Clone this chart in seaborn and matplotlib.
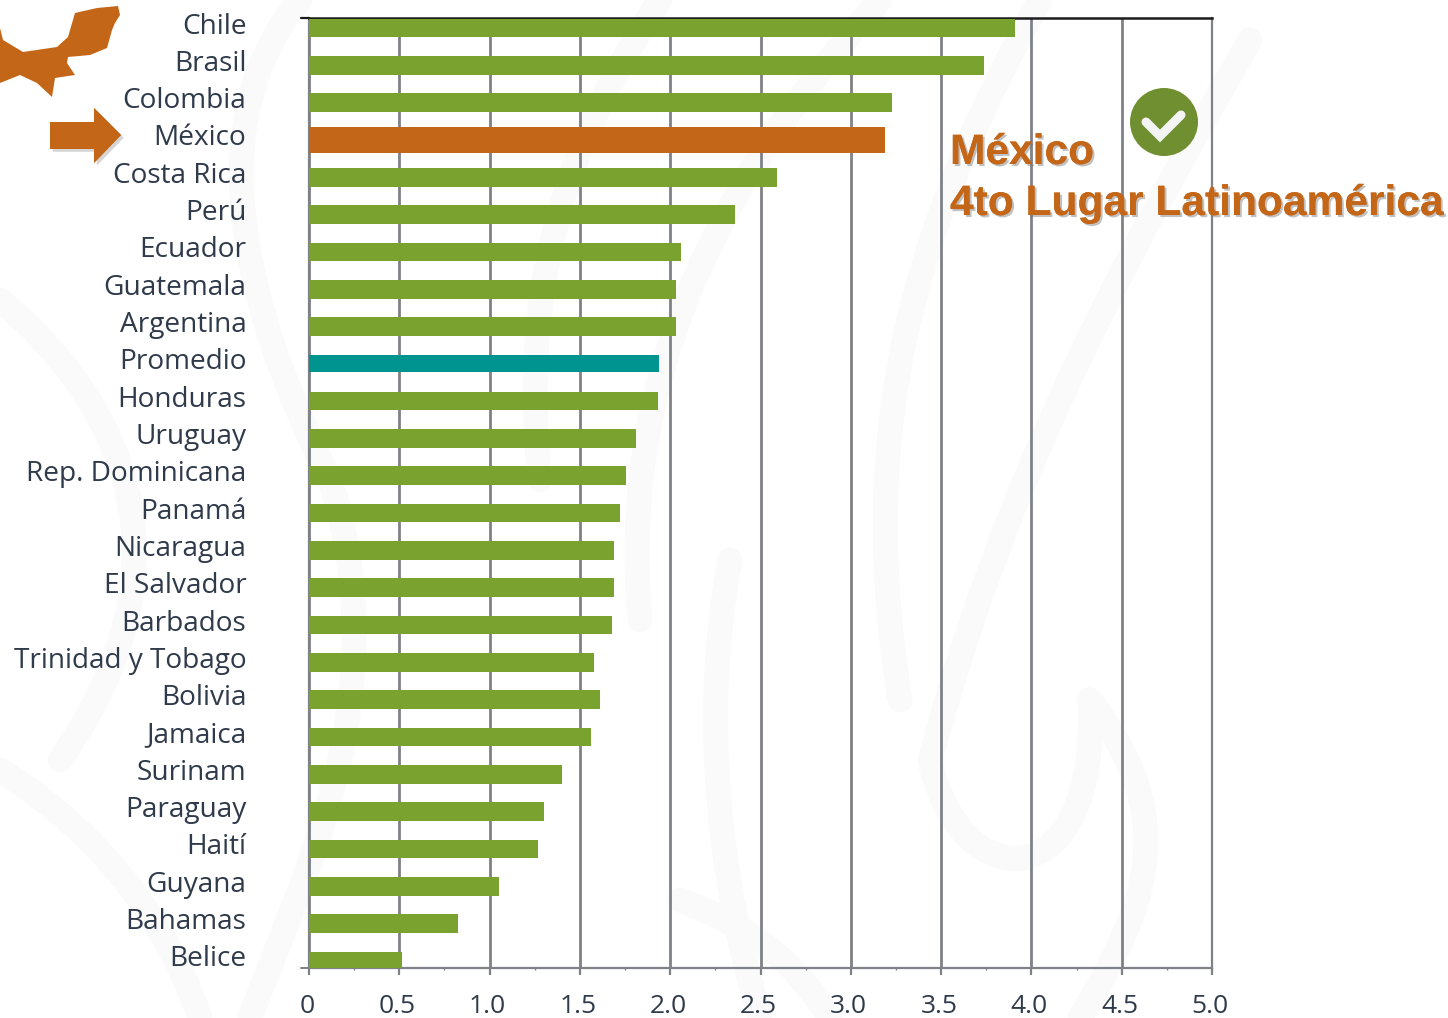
import matplotlib
matplotlib.use("Agg")
import matplotlib.pyplot as plt
import matplotlib.patheffects as pe
import matplotlib.transforms as mtrans
from matplotlib.path import Path
from matplotlib.patches import PathPatch, Polygon, Circle
from matplotlib.ticker import MultipleLocator
import pandas as pd
import seaborn as sns

paises = ['Chile', 'Brasil', 'Colombia', 'México', 'Costa Rica', 'Perú', 'Ecuador',
          'Guatemala', 'Argentina', 'Promedio', 'Honduras', 'Uruguay', 'Rep. Dominicana',
          'Panamá', 'Nicaragua', 'El Salvador', 'Barbados', 'Trinidad y Tobago', 'Bolivia',
          'Jamaica', 'Surinam', 'Paraguay', 'Haití', 'Guyana', 'Bahamas', 'Belice']
valores = [3.91, 3.74, 3.23, 3.19, 2.59, 2.36, 2.06, 2.03, 2.03, 1.94, 1.93, 1.81, 1.755,
           1.72, 1.69, 1.69, 1.68, 1.58, 1.61, 1.56, 1.40, 1.30, 1.27, 1.05, 0.825, 0.515]
xticks = [0, 0.5, 1.0, 1.5, 2.0, 2.5, 3.0, 3.5, 4.0, 4.5, 5.0]
xtick_labels = ['0', '0.5', '1.0', '1.5', '2.0', '2.5', '3.0', '3.5', '4.0', '4.5', '5.0']

verde = '#7aa22f'
naranja = '#c46618'
teal = '#009490'
gris = '#7e8186'
texto = '#2f3a4a'

sns.set_theme(style='white')
plt.rcParams['font.family'] = ['Open Sans', 'DejaVu Sans']

W, H = 1448, 1018
fig = plt.figure(figsize=(W / 100, H / 100), dpi=100, facecolor='white')

# Watermark behind everything
bg = fig.add_axes([0, 0, 1, 1], zorder=0)
bg.set_xlim(0, W)
bg.set_ylim(H, 0)
bg.axis('off')
curvas = [
    [(660, 0), (560, 150), (520, 300), (540, 480)],
    [(880, 0), (700, 200), (620, 400), (640, 620)],
    [(1040, 0), (900, 250), (860, 450), (900, 700)],
    [(1250, 40), (1100, 300), (1000, 500), (930, 760)],
    [(930, 760), (960, 900), (1100, 900), (1090, 700)],
    [(1090, 700), (1180, 820), (1150, 900), (1080, 1018)],
    [(0, 300), (120, 400), (200, 560), (60, 760)],
    [(300, 0), (200, 120), (240, 300), (330, 480)],
    [(330, 480), (400, 700), (300, 880), (250, 1018)],
    [(0, 770), (80, 820), (160, 900), (200, 1018)],
    [(680, 900), (760, 930), (800, 970), (830, 1018)],
    [(730, 560), (700, 720), (720, 880), (760, 1018)],
]
for c in curvas:
    bg.add_patch(PathPatch(Path(c, [Path.MOVETO, Path.CURVE4, Path.CURVE4, Path.CURVE4]),
                           fc='none', ec='#fafafa', lw=18, capstyle='round'))

# Main chart, axes box taken from the reference pixels
y0, y1 = 18, 968
ax = fig.add_axes([309 / W, 1 - y1 / H, (1212 - 309) / W, (y1 - y0) / H], zorder=1)
ax.patch.set_alpha(0)

df = pd.DataFrame({'pais': paises, 'valor': valores})
grupos = df['pais'].map({'México': 'mexico', 'Promedio': 'promedio'}).fillna('resto')
ax.xaxis.grid(True, color=gris, lw=2.0)
ax.set_axisbelow(True)
sns.barplot(data=df[grupos == 'resto'], x='valor', y='pais', order=paises,
            color=verde, width=0.5, saturation=1, linewidth=0, ax=ax, zorder=3)
sns.barplot(data=df[grupos == 'mexico'], x='valor', y='pais', order=paises,
            color=naranja, width=0.7, saturation=1, linewidth=0, ax=ax, zorder=3)
sns.barplot(data=df[grupos == 'promedio'], x='valor', y='pais', order=paises,
            color=teal, width=0.46, saturation=1, linewidth=0, ax=ax, zorder=3)

ax.set_xlim(0, 5)
ax.set_ylim(25.19, -0.268)
ax.set_xlabel('')
ax.set_ylabel('')

sns.despine(ax=ax, left=False, right=False, top=False, bottom=False)
for lado in ['left', 'right', 'bottom']:
    ax.spines[lado].set_color(gris)
    ax.spines[lado].set_linewidth(1.6)
ax.spines['top'].set_color('#1c1c1c')
ax.spines['top'].set_linewidth(1.8)

ax.set_xticks(xticks)
ax.set_xticklabels(xtick_labels, fontsize=19, color=texto)
ax.xaxis.set_minor_locator(MultipleLocator(0.25))
ax.tick_params(axis='x', which='major', bottom=True, length=5, width=1.6, color=gris, pad=14)
ax.tick_params(axis='x', which='minor', bottom=True, length=1.5, width=1, color=gris)
ax.tick_params(axis='y', left=False, pad=39)
ax.set_yticks(range(len(paises)))
ax.set_yticklabels(paises, fontsize=20.2, color=texto)
sube = mtrans.ScaledTranslation(0, 5 / 100, fig.dpi_scale_trans)
for t in ax.get_yticklabels():
    t.set_transform(t.get_transform() + sube)
for t in ax.get_xticklabels():
    t.set_transform(t.get_transform() + mtrans.ScaledTranslation(-2 / 100, 0, fig.dpi_scale_trans))

# Overlay: map, arrow, check, callout
fg = fig.add_axes([0, 0, 1, 1], zorder=2)
fg.set_xlim(0, W)
fg.set_ylim(H, 0)
fg.axis('off')
fg.patch.set_alpha(0)

fg.plot([301, 309], [18, 18], color='#1c1c1c', lw=1.6)
fg.plot([301, 309], [968, 968], color=gris, lw=1.4)

sombra = [pe.withSimplePatchShadow(offset=(2, -2), shadow_rgbFace='#888888', alpha=0.35), pe.Normal()]
yucatan = [(0, 28), (3, 40), (23, 52), (57, 47), (68, 37), (75, 13), (97, 8), (118, 6), (120, 15),
           (115, 23), (112, 30), (107, 48), (90, 55), (68, 57), (67, 63), (75, 75), (55, 78),
           (52, 97), (37, 83), (20, 75), (0, 83)]
fg.add_patch(Polygon(yucatan, closed=True, fc=naranja, ec='none'))
flecha = [(50, 122), (94, 122), (94, 108), (121, 135), (94, 163), (94, 149), (50, 149)]
fg.add_patch(Polygon(flecha, closed=True, fc=naranja, ec='none', path_effects=sombra))
fg.add_patch(Circle((1164, 122), 34, fc='#6f8f30', ec='none'))
fg.plot([1146, 1160, 1181], [122, 136, 115], color='#f4f4f4', lw=6.5, solid_joinstyle='miter')

for s, yy in [('México', 153), ('4to Lugar Latinoamérica', 204)]:
    fg.text(950, yy, s, fontsize=30.6, fontweight='bold', family='Liberation Sans', color=naranja,
            va='center', ha='left',
            path_effects=[pe.withSimplePatchShadow(offset=(1.5, -1.5), shadow_rgbFace='#777777', alpha=0.45),
                          pe.Normal()])

fig.savefig('out.png', dpi=100)
